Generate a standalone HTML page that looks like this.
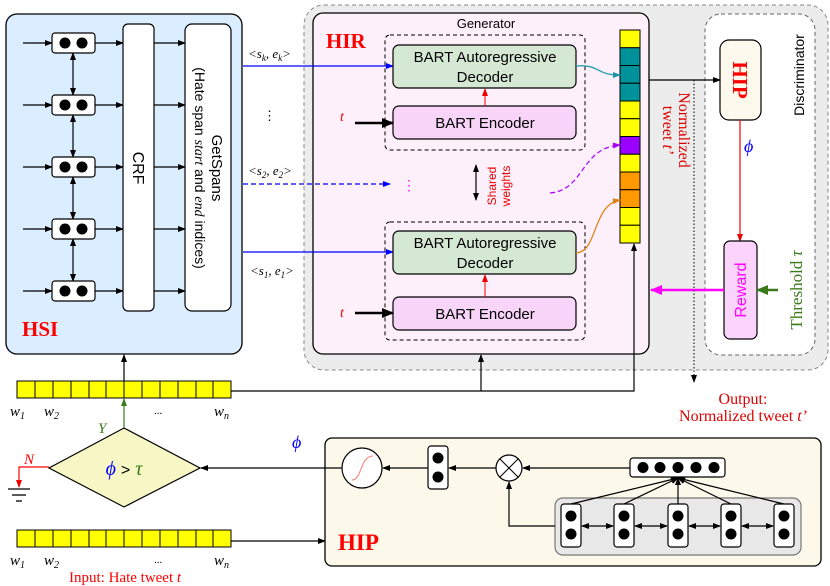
<!DOCTYPE html>
<html><head><meta charset="utf-8"><style>
body{margin:0;background:#fff}
svg{display:block;font-family:"Liberation Sans",sans-serif}
.s{font-family:"Liberation Serif",serif}
</style></head><body>
<svg width="830" height="586" viewBox="0 0 830 586" xmlns="http://www.w3.org/2000/svg">
<defs>
<marker id="a" markerWidth="8" markerHeight="8" refX="7" refY="4" orient="auto" markerUnits="userSpaceOnUse"><path d="M0,1 L8,4 L0,7z" fill="#000"/></marker>
<marker id="as" markerWidth="8" markerHeight="8" refX="1" refY="4" orient="auto" markerUnits="userSpaceOnUse"><path d="M8,1 L0,4 L8,7z" fill="#000"/></marker>
<marker id="ab" markerWidth="8" markerHeight="8" refX="7" refY="4" orient="auto" markerUnits="userSpaceOnUse"><path d="M0,1 L8,4 L0,7z" fill="#00f"/></marker>
<marker id="ar" markerWidth="8" markerHeight="8" refX="7" refY="4" orient="auto" markerUnits="userSpaceOnUse"><path d="M0,1 L8,4 L0,7z" fill="#e00"/></marker>
<marker id="ag" markerWidth="8" markerHeight="8" refX="7" refY="4" orient="auto" markerUnits="userSpaceOnUse"><path d="M0,1 L8,4 L0,7z" fill="#3a7a1a"/></marker>
<marker id="am" markerWidth="12" markerHeight="12" refX="11" refY="6" orient="auto" markerUnits="userSpaceOnUse"><path d="M0,1 L12,6 L0,11z" fill="#f0f"/></marker>
<marker id="at" markerWidth="8" markerHeight="8" refX="7" refY="4" orient="auto" markerUnits="userSpaceOnUse"><path d="M0,1 L8,4 L0,7z" fill="#1a9aa8"/></marker>
<marker id="ap" markerWidth="8" markerHeight="8" refX="7" refY="4" orient="auto" markerUnits="userSpaceOnUse"><path d="M0,1 L8,4 L0,7z" fill="#a0f"/></marker>
<marker id="ao" markerWidth="8" markerHeight="8" refX="7" refY="4" orient="auto" markerUnits="userSpaceOnUse"><path d="M0,1 L8,4 L0,7z" fill="#e08010"/></marker>
<marker id="ak" markerWidth="12" markerHeight="12" refX="11" refY="6" orient="auto" markerUnits="userSpaceOnUse"><path d="M0,1 L12,6 L0,11z" fill="#000"/></marker>
<marker id="ag2" markerWidth="12" markerHeight="12" refX="11" refY="6" orient="auto" markerUnits="userSpaceOnUse"><path d="M0,1 L12,6 L0,11z" fill="#3a7a1a"/></marker>
</defs>

<!-- HSI -->
<rect x="6" y="14" width="236" height="340" rx="11" fill="#dbeeff" stroke="#000" stroke-width="1.3"/>
<g stroke="#000" stroke-width="1.2" fill="none">
<line x1="23" y1="43" x2="52" y2="43" marker-end="url(#a)"/>
<line x1="23" y1="105" x2="52" y2="105" marker-end="url(#a)"/>
<line x1="23" y1="167" x2="52" y2="167" marker-end="url(#a)"/>
<line x1="23" y1="229" x2="52" y2="229" marker-end="url(#a)"/>
<line x1="23" y1="291" x2="52" y2="291" marker-end="url(#a)"/>
<line x1="95" y1="43" x2="123" y2="43" marker-end="url(#a)"/>
<line x1="95" y1="105" x2="123" y2="105" marker-end="url(#a)"/>
<line x1="95" y1="167" x2="123" y2="167" marker-end="url(#a)"/>
<line x1="95" y1="229" x2="123" y2="229" marker-end="url(#a)"/>
<line x1="95" y1="291" x2="123" y2="291" marker-end="url(#a)"/>
<line x1="154" y1="43" x2="185" y2="43" marker-end="url(#a)"/>
<line x1="154" y1="105" x2="185" y2="105" marker-end="url(#a)"/>
<line x1="154" y1="167" x2="185" y2="167" marker-end="url(#a)"/>
<line x1="154" y1="229" x2="185" y2="229" marker-end="url(#a)"/>
<line x1="154" y1="291" x2="185" y2="291" marker-end="url(#a)"/>
<line x1="73" y1="53" x2="73" y2="95" marker-start="url(#as)" marker-end="url(#a)"/>
<line x1="73" y1="115" x2="73" y2="157" marker-start="url(#as)" marker-end="url(#a)"/>
<line x1="73" y1="177" x2="73" y2="219" marker-start="url(#as)" marker-end="url(#a)"/>
<line x1="73" y1="239" x2="73" y2="281" marker-start="url(#as)" marker-end="url(#a)"/>
</g>
<g fill="#fff" stroke="#000" stroke-width="1.2">
<rect x="52" y="33" width="43" height="20" rx="3"/>
<rect x="52" y="95" width="43" height="20" rx="3"/>
<rect x="52" y="157" width="43" height="20" rx="3"/>
<rect x="52" y="219" width="43" height="20" rx="3"/>
<rect x="52" y="281" width="43" height="20" rx="3"/>
<rect x="123" y="24" width="31" height="287" rx="5"/>
<rect x="185" y="24" width="46" height="287" rx="7"/>
</g>
<g fill="#000">
<circle cx="65" cy="43" r="5.5"/><circle cx="82" cy="43" r="5.5"/>
<circle cx="65" cy="105" r="5.5"/><circle cx="82" cy="105" r="5.5"/>
<circle cx="65" cy="167" r="5.5"/><circle cx="82" cy="167" r="5.5"/>
<circle cx="65" cy="229" r="5.5"/><circle cx="82" cy="229" r="5.5"/>
<circle cx="65" cy="291" r="5.5"/><circle cx="82" cy="291" r="5.5"/>
</g>
<text transform="translate(133,168) rotate(90)" text-anchor="middle" font-size="16">CRF</text>
<text transform="translate(212,168) rotate(90)" text-anchor="middle" font-size="15">GetSpans</text>
<text transform="translate(195,168) rotate(90)" text-anchor="middle" font-size="14">(Hate span <tspan class="s" font-style="italic">start</tspan> and <tspan class="s" font-style="italic">end</tspan> indices)</text>
<text x="22" y="336" class="s" font-size="21" font-weight="bold" fill="#f00">HSI</text>

<!-- big gray region -->
<rect x="304" y="5" width="524" height="365" rx="20" fill="#ececec" stroke="#888" stroke-dasharray="4,3"/>
<rect x="313" y="13" width="336" height="341" rx="10" fill="#fdf0fb" stroke="#000" stroke-width="1.3"/>
<text x="486" y="28" text-anchor="middle" font-size="13">Generator</text>
<text x="326" y="48" class="s" font-size="21" font-weight="bold" fill="#f00">HIR</text>

<!-- labels s,e -->
<g class="s" font-size="13" font-style="italic">
<text x="248" y="58">&lt;s<tspan font-size="9" dy="3">k</tspan><tspan dy="-3">, e</tspan><tspan font-size="9" dy="3">k</tspan><tspan dy="-3">&gt;</tspan></text>
<text x="248" y="175">&lt;s<tspan font-size="9" dy="3">2</tspan><tspan dy="-3">, e</tspan><tspan font-size="9" dy="3">2</tspan><tspan dy="-3">&gt;</tspan></text>
<text x="250" y="275">&lt;s<tspan font-size="9" dy="3">1</tspan><tspan dy="-3">, e</tspan><tspan font-size="9" dy="3">1</tspan><tspan dy="-3">&gt;</tspan></text>
</g>
<text x="263" y="120" font-size="13">⋮</text>
<line x1="243" y1="66" x2="393" y2="66" stroke="#00f" stroke-width="1.2" marker-end="url(#ab)"/>
<line x1="243" y1="184" x2="390" y2="184" stroke="#00f" stroke-width="1.2" stroke-dasharray="5,3" marker-end="url(#ab)"/>
<line x1="243" y1="252" x2="393" y2="252" stroke="#00f" stroke-width="1.2" marker-end="url(#ab)"/>
<text x="402" y="190" font-size="14" fill="#f0f">⋮</text>

<!-- encoder/decoder groups -->
<rect x="385" y="35" width="200" height="115" rx="5" fill="none" stroke="#000" stroke-dasharray="4,3"/>
<rect x="393" y="45" width="183" height="43" rx="6" fill="#d5e8d4" stroke="#000" stroke-width="1.2"/>
<rect x="393" y="106" width="183" height="33" rx="6" fill="#f9d4f9" stroke="#000" stroke-width="1.2"/>
<text x="485" y="62" text-anchor="middle" font-size="15">BART Autoregressive</text>
<text x="485" y="82" text-anchor="middle" font-size="15">Decoder</text>
<text x="485" y="128" text-anchor="middle" font-size="15">BART Encoder</text>
<line x1="485" y1="106" x2="485" y2="89" stroke="#e00" marker-end="url(#ar)"/>
<text x="340" y="121" class="s" font-style="italic" font-size="14" fill="#e00">t</text>
<line x1="355" y1="123" x2="393" y2="123" stroke="#000" stroke-width="2.5" marker-end="url(#ak)"/>

<rect x="385" y="222" width="200" height="118" rx="5" fill="none" stroke="#000" stroke-dasharray="4,3"/>
<rect x="393" y="231" width="183" height="43" rx="6" fill="#d5e8d4" stroke="#000" stroke-width="1.2"/>
<rect x="393" y="297" width="183" height="33" rx="6" fill="#f9d4f9" stroke="#000" stroke-width="1.2"/>
<text x="485" y="248" text-anchor="middle" font-size="15">BART Autoregressive</text>
<text x="485" y="268" text-anchor="middle" font-size="15">Decoder</text>
<text x="485" y="319" text-anchor="middle" font-size="15">BART Encoder</text>
<line x1="485" y1="297" x2="485" y2="275" stroke="#e00" marker-end="url(#ar)"/>
<text x="340" y="317" class="s" font-style="italic" font-size="14" fill="#e00">t</text>
<line x1="355" y1="313" x2="393" y2="313" stroke="#000" stroke-width="2.5" marker-end="url(#ak)"/>

<line x1="476" y1="165" x2="476" y2="200" stroke="#000" stroke-width="1.2" marker-start="url(#as)" marker-end="url(#a)"/>
<text transform="translate(496,186) rotate(-90)" text-anchor="middle" font-size="12" fill="#e00">Shared</text>
<text transform="translate(510,186) rotate(-90)" text-anchor="middle" font-size="12" fill="#e00">weights</text>

<!-- vector column -->
<g stroke="#000" stroke-width="1">
<rect x="620" y="30" width="20" height="17.75" fill="#ff0"/>
<rect x="620" y="47.75" width="20" height="17.75" fill="#00929a"/>
<rect x="620" y="65.5" width="20" height="17.75" fill="#00929a"/>
<rect x="620" y="83.25" width="20" height="17.75" fill="#00929a"/>
<rect x="620" y="101" width="20" height="17.75" fill="#ff0"/>
<rect x="620" y="118.75" width="20" height="17.75" fill="#ff0"/>
<rect x="620" y="136.5" width="20" height="17.75" fill="#9900ff"/>
<rect x="620" y="154.25" width="20" height="17.75" fill="#ff0"/>
<rect x="620" y="172" width="20" height="17.75" fill="#ff9900"/>
<rect x="620" y="189.75" width="20" height="17.75" fill="#ff9900"/>
<rect x="620" y="207.5" width="20" height="17.75" fill="#ff0"/>
<rect x="620" y="225.25" width="20" height="17.75" fill="#ff0"/>
</g>
<path d="M576,66 C600,64 595,75 620,75" fill="none" stroke="#1a9aa8" stroke-width="1.2" marker-end="url(#at)"/>
<path d="M550,193 C585,190 580,148 620,145" fill="none" stroke="#a0f" stroke-width="1.2" stroke-dasharray="5,3" marker-end="url(#ap)"/>
<path d="M576,253 C598,252 592,205 620,200" fill="none" stroke="#e08010" stroke-width="1.2" marker-end="url(#ao)"/>

<!-- discriminator -->
<rect x="705" y="14" width="110" height="341" rx="16" fill="#fff" stroke="#666" stroke-dasharray="4,3"/>
<text transform="translate(804,75) rotate(-90)" text-anchor="middle" font-size="14">Discriminator</text>
<rect x="720" y="40" width="41" height="80" rx="9" fill="#fdf9ec" stroke="#000" stroke-width="1.2"/>
<text transform="translate(733,80) rotate(90)" text-anchor="middle" class="s" font-size="21" font-weight="bold" fill="#f00">HIP</text>
<line x1="649" y1="80" x2="720" y2="80" stroke="#000" stroke-width="1.2" marker-end="url(#a)"/>
<line x1="740" y1="120" x2="740" y2="241" stroke="#f00" stroke-width="1.2" marker-end="url(#ar)"/>
<text x="744" y="152" class="s" font-size="18" font-style="italic" fill="#00f">ϕ</text>
<rect x="724" y="241" width="33" height="98" rx="6" fill="#fbd4fb" stroke="#000" stroke-width="1.2"/>
<text transform="translate(746,290) rotate(-90)" text-anchor="middle" font-size="16" fill="#f0f">Reward</text>
<line x1="724" y1="290" x2="651" y2="290" stroke="#f0f" stroke-width="2.5" marker-end="url(#am)"/>
<line x1="778" y1="290" x2="757" y2="290" stroke="#3a7a1a" stroke-width="2.5" marker-end="url(#ag2)"/>
<text transform="translate(802,290) rotate(-90)" text-anchor="middle" class="s" font-size="17" fill="#3a7a1a">Threshold <tspan font-style="italic">τ</tspan></text>
<text transform="translate(679,130) rotate(90)" text-anchor="middle" class="s" font-size="16" fill="#d00">Normalized</text>
<text transform="translate(663,130) rotate(90)" text-anchor="middle" class="s" font-size="16" fill="#d00">tweet  <tspan font-style="italic">t’</tspan></text>
<line x1="694" y1="80" x2="694" y2="382" stroke="#000" stroke-width="1" stroke-dasharray="1.5,2" marker-end="url(#a)"/>
<text x="743" y="404" text-anchor="middle" class="s" font-size="16" fill="#d00">Output:</text>
<text x="743" y="421" text-anchor="middle" class="s" font-size="16" fill="#d00">Normalized tweet <tspan font-style="italic">t’</tspan></text>

<!-- top word vector -->
<rect x="17" y="381" width="214" height="17" fill="#ff0" stroke="#000"/>
<g stroke="#000" stroke-width="1">
<line x1="35" y1="381" x2="35" y2="398"/><line x1="53" y1="381" x2="53" y2="398"/><line x1="71" y1="381" x2="71" y2="398"/><line x1="89" y1="381" x2="89" y2="398"/><line x1="106" y1="381" x2="106" y2="398"/><line x1="124" y1="381" x2="124" y2="398"/><line x1="142" y1="381" x2="142" y2="398"/><line x1="160" y1="381" x2="160" y2="398"/><line x1="178" y1="381" x2="178" y2="398"/><line x1="196" y1="381" x2="196" y2="398"/><line x1="213" y1="381" x2="213" y2="398"/>
</g>
<line x1="124" y1="381" x2="124" y2="355" stroke="#000" stroke-width="1.2" marker-end="url(#a)"/>
<polyline points="231,391 634,391 634,244" fill="none" stroke="#000" stroke-width="1.2" marker-end="url(#a)"/>
<line x1="481" y1="391" x2="481" y2="355" stroke="#000" stroke-width="1.2" marker-end="url(#a)"/>
<g class="s" font-style="italic" font-size="15">
<text x="10" y="416">w<tspan font-size="10" dy="3">1</tspan></text>
<text x="44" y="416">w<tspan font-size="10" dy="3">2</tspan></text>
<text x="154" y="414" font-style="normal" font-size="11">...</text>
<text x="214" y="416">w<tspan font-size="10" dy="3">n</tspan></text>
</g>

<!-- diamond -->
<polygon points="124,428 200,468 124,507 49,468" fill="#f7f7c6" stroke="#000" stroke-width="1.2"/>
<text x="124" y="475" text-anchor="middle" class="s" font-size="20"><tspan fill="#00f" font-style="italic">ϕ</tspan> <tspan font-family="Liberation Sans" font-size="16">&gt;</tspan> <tspan fill="#3a7a1a" font-style="italic">τ</tspan></text>
<line x1="124" y1="428" x2="124" y2="399" stroke="#3a7a1a" stroke-width="1.2" marker-end="url(#ag)"/>
<text x="98" y="433" class="s" font-style="italic" font-size="15" fill="#3a7a1a">Y</text>
<text x="24" y="464" class="s" font-style="italic" font-size="15" fill="#f00">N</text>
<polyline points="49,467 19,467 19,487" fill="none" stroke="#f00" stroke-width="1.2" marker-end="url(#ar)"/>
<g stroke="#000" stroke-width="1.3"><line x1="8" y1="489" x2="30" y2="489"/><line x1="12" y1="495" x2="26" y2="495"/><line x1="16" y1="501" x2="22" y2="501"/></g>

<!-- bottom vector -->
<rect x="17" y="530" width="214" height="17" fill="#ff0" stroke="#000"/>
<g stroke="#000" stroke-width="1">
<line x1="35" y1="530" x2="35" y2="547"/><line x1="53" y1="530" x2="53" y2="547"/><line x1="71" y1="530" x2="71" y2="547"/><line x1="89" y1="530" x2="89" y2="547"/><line x1="106" y1="530" x2="106" y2="547"/><line x1="124" y1="530" x2="124" y2="547"/><line x1="142" y1="530" x2="142" y2="547"/><line x1="160" y1="530" x2="160" y2="547"/><line x1="178" y1="530" x2="178" y2="547"/><line x1="196" y1="530" x2="196" y2="547"/><line x1="213" y1="530" x2="213" y2="547"/>
</g>
<g class="s" font-style="italic" font-size="15">
<text x="10" y="565">w<tspan font-size="10" dy="3">1</tspan></text>
<text x="44" y="565">w<tspan font-size="10" dy="3">2</tspan></text>
<text x="154" y="563" font-style="normal" font-size="11">...</text>
<text x="214" y="565">w<tspan font-size="10" dy="3">n</tspan></text>
</g>
<text x="69" y="582" class="s" font-size="15" fill="#f00">Input: Hate tweet  <tspan font-style="italic">t</tspan></text>
<line x1="231" y1="541" x2="325" y2="541" stroke="#000" stroke-width="1.2" marker-end="url(#a)"/>

<!-- HIP bottom -->
<rect x="325" y="438" width="496" height="128" rx="7" fill="#fdf9ea" stroke="#000" stroke-width="1.3"/>
<text x="338" y="550" class="s" font-size="23" font-weight="bold" fill="#f00">HIP</text>
<text x="292" y="448" class="s" font-size="18" font-style="italic" fill="#00f">ϕ</text>
<line x1="342" y1="468" x2="201" y2="468" stroke="#000" stroke-width="1.2" marker-end="url(#a)"/>
<circle cx="362" cy="468" r="20" fill="#fff" stroke="#000" stroke-width="1.2"/>
<path d="M352,480 C362,480 360,456 373,456" fill="none" stroke="#f08070" stroke-width="1"/>
<line x1="428" y1="468" x2="383" y2="468" stroke="#000" stroke-width="1.2" marker-end="url(#a)"/>
<rect x="428" y="446" width="20" height="43" rx="3" fill="#fff" stroke="#000" stroke-width="1.2"/>
<circle cx="438" cy="458" r="5.5"/><circle cx="438" cy="477" r="5.5"/>
<line x1="496" y1="468" x2="449" y2="468" stroke="#000" stroke-width="1.2" marker-end="url(#a)"/>
<circle cx="509" cy="468" r="13" fill="#fff" stroke="#000" stroke-width="1.2"/>
<line x1="500" y1="459" x2="518" y2="477" stroke="#000"/><line x1="518" y1="459" x2="500" y2="477" stroke="#000"/>
<line x1="630" y1="468" x2="523" y2="468" stroke="#000" stroke-width="1.2" marker-end="url(#a)"/>
<rect x="630" y="458" width="95" height="19" rx="3" fill="#fff" stroke="#000" stroke-width="1.2"/>
<circle cx="643" cy="467.5" r="5.5"/><circle cx="660" cy="467.5" r="5.5"/><circle cx="678" cy="467.5" r="5.5"/><circle cx="696" cy="467.5" r="5.5"/><circle cx="714" cy="467.5" r="5.5"/>
<rect x="555" y="498" width="246" height="57" rx="8" fill="#e8e8e8" stroke="#777" stroke-width="1.2"/>
<polyline points="555,526 509,526 509,482" fill="none" stroke="#000" stroke-width="1.2" marker-end="url(#a)"/>
<g stroke="#000" stroke-width="1.2">
<line x1="571" y1="504" x2="678" y2="478" marker-end="url(#a)"/>
<line x1="624" y1="504" x2="678" y2="478" marker-end="url(#a)"/>
<line x1="678" y1="504" x2="678" y2="478" marker-end="url(#a)"/>
<line x1="731" y1="504" x2="678" y2="478" marker-end="url(#a)"/>
<line x1="784" y1="504" x2="678" y2="478" marker-end="url(#a)"/>
<line x1="582" y1="526" x2="613" y2="526" marker-start="url(#as)" marker-end="url(#a)"/>
<line x1="635" y1="526" x2="667" y2="526" marker-start="url(#as)" marker-end="url(#a)"/>
<line x1="689" y1="526" x2="720" y2="526" marker-start="url(#as)" marker-end="url(#a)"/>
<line x1="742" y1="526" x2="773" y2="526" marker-start="url(#as)" marker-end="url(#a)"/>
</g>
<g fill="#fff" stroke="#000" stroke-width="1.2">
<rect x="561" y="504" width="20" height="43" rx="3"/>
<rect x="614" y="504" width="20" height="43" rx="3"/>
<rect x="668" y="504" width="20" height="43" rx="3"/>
<rect x="721" y="504" width="20" height="43" rx="3"/>
<rect x="774" y="504" width="20" height="43" rx="3"/>
</g>
<g fill="#000">
<circle cx="571" cy="516" r="5.5"/><circle cx="571" cy="534" r="5.5"/>
<circle cx="624" cy="516" r="5.5"/><circle cx="624" cy="534" r="5.5"/>
<circle cx="678" cy="516" r="5.5"/><circle cx="678" cy="534" r="5.5"/>
<circle cx="731" cy="516" r="5.5"/><circle cx="731" cy="534" r="5.5"/>
<circle cx="784" cy="516" r="5.5"/><circle cx="784" cy="534" r="5.5"/>
</g>
</svg>
</body></html>
